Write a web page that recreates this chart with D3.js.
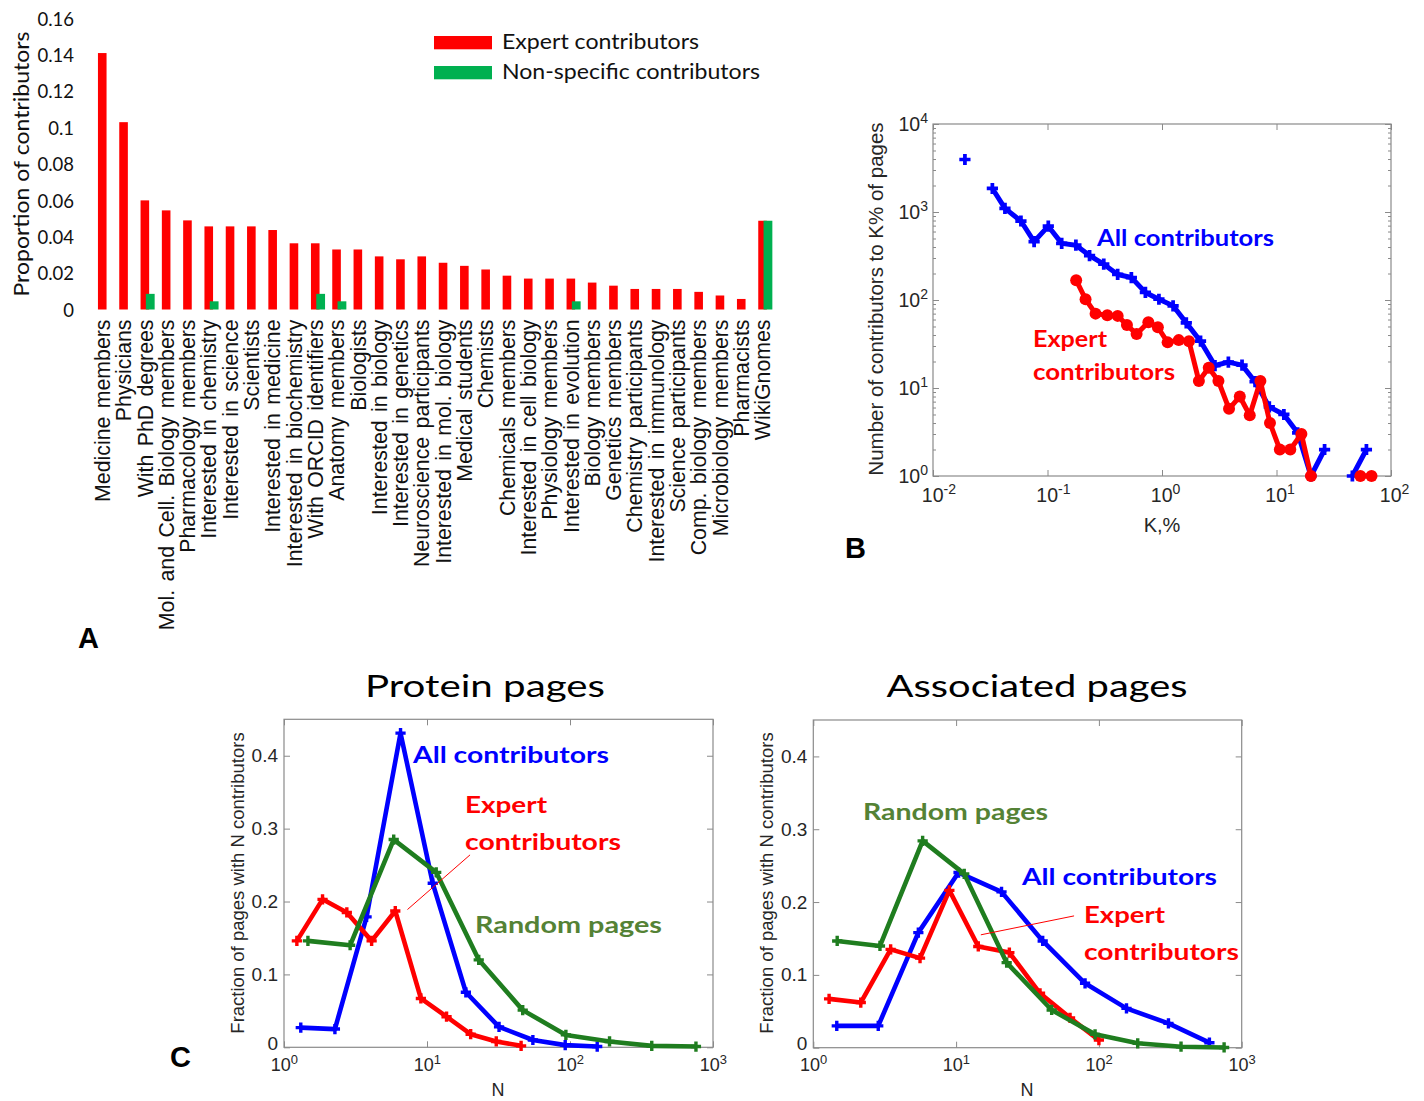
<!DOCTYPE html>
<html>
<head>
<meta charset="utf-8">
<script src="https://cdn.jsdelivr.net/npm/d3@7"></script>
<style>
    body { margin: 0; background: #fff; }
    svg { display: block; }
</style>
</head>
<body>
<div id="chart"></div>
<script>

// --- DATA ---

// Panel A : proportion of contributors per category
const categoriesA = ["Medicine members", "Physicians", "With PhD degrees", "Mol. and Cell. Biology members",
    "Pharmacology members", "Interested in chemistry", "Interested in science", "Scientists",
    "Interested in medicine", "Interested in biochemistry", "With ORCID identifiers", "Anatomy members",
    "Biologists", "Interested in biology", "Interested in genetics", "Neuroscience participants",
    "Interested in mol. biology", "Medical students", "Chemists", "Chemicals members",
    "Interested in cell biology", "Physiology members", "Interested in evolution", "Biology members",
    "Genetics members", "Chemistry participants", "Interested in immunology", "Science participants",
    "Comp. biology members", "Microbiology members", "Pharmacists", "WikiGnomes"];
const expertShare = [0.141, 0.103, 0.060, 0.0545, 0.049, 0.0457, 0.0457, 0.0457, 0.0437, 0.0364, 0.0364,
    0.033, 0.033, 0.0292, 0.0276, 0.0292, 0.0257, 0.024, 0.022, 0.0186, 0.017, 0.017, 0.017, 0.0148,
    0.0131, 0.0113, 0.0113, 0.0113, 0.0097, 0.0077, 0.0058, 0.0488];
const nonSpecificShare = [0, 0, 0.0086, 0, 0, 0.0045, 0, 0, 0, 0, 0.0086, 0.0045, 0, 0, 0, 0, 0, 0, 0, 0,
    0, 0, 0.0045, 0, 0, 0, 0, 0, 0, 0, 0, 0.0488];
const yTicksA = [0, 0.02, 0.04, 0.06, 0.08, 0.1, 0.12, 0.14, 0.16];
const legendA = ["Expert contributors", "Non-specific contributors"];

// Panel B : number of contributors to K% of pages (null = no contributor, gap in the line)
const kAll = [0.019, 0.025, 0.033, 0.0425, 0.0586, 0.0764, 0.1016, 0.133, 0.177, 0.233, 0.31, 0.41, 0.54,
    0.716, 0.94, 1.25, 1.63, 2.17, 2.9, 3.8, 5.0, 6.5, 8.65, 11.6, 15.3, 20, 26.3, 35, 46, 61];
const nAll = [3950, null, 1850, 1100, 790, 460, 690, 440, 420, 320, 255, 195, 180, 122, 102, 86, 55, 34,
    18, 19.7, 18.2, 11.8, 6.1, 5.0, 3.1, 1, 2, null, 1, 2];
const kExpert = [0.178, 0.215, 0.263, 0.333, 0.41, 0.494, 0.6, 0.76, 0.92, 1.12, 1.40, 1.72, 2.10, 2.56,
    3.11, 3.85, 4.78, 5.84, 7.23, 8.77, 10.7, 13.2, 16.5, 20, 30, 54, 67.6];
const nExpert = [168, 102, 70, 67, 66, 52, 41, 56, 49, 33, 35, 34, 12, 17, 12, 5.8, 8, 4.9, 12, 4, 2, 2,
    3, 1, null, 1, 1];
const kTicksB = [0.01, 0.1, 1, 10, 100];
const nTicksB = [1, 10, 100, 1000, 10000];

// Panel C : fraction of pages with N contributors
const proteinAllN = [1.31, 2.27, 3.78, 6.53, 10.97, 18.7, 31.9, 55, 92.6, 155];
const proteinAllF = [0.027, 0.025, 0.179, 0.431, 0.225, 0.0755, 0.028, 0.010, 0.003, 0.001];
const proteinExpertN = [1.23, 1.86, 2.75, 4.1, 6.0, 9.06, 13.7, 20.2, 30.5, 45.5];
const proteinExpertF = [0.146, 0.203, 0.185, 0.146, 0.187, 0.067, 0.042, 0.018, 0.008, 0.002];
const proteinRandomN = [1.47, 2.9, 5.85, 11.6, 23, 46.7, 93.6, 189, 373, 760];
const proteinRandomF = [0.146, 0.140, 0.285, 0.240, 0.120, 0.051, 0.017, 0.008, 0.002, 0.001];

const assocAllN = [1.46, 2.85, 5.44, 10.4, 20.8, 40.4, 80, 156, 307, 594];
const assocAllF = [0.030, 0.030, 0.158, 0.2405, 0.214, 0.1466, 0.0884, 0.054, 0.0334, 0.0069];
const assocExpertN = [1.29, 2.15, 3.48, 5.59, 8.97, 14.3, 23.6, 38.7, 62.8, 100];
const assocExpertF = [0.067, 0.062, 0.135, 0.123, 0.216, 0.139, 0.1306, 0.0747, 0.041, 0.0105];
const assocRandomN = [1.47, 2.93, 5.83, 11.4, 22.6, 46.7, 94, 187, 376, 753];
const assocRandomF = [0.1466, 0.1397, 0.284, 0.2387, 0.1168, 0.0518, 0.0183, 0.006, 0.0014, 0.0003];

const nTicksC = [1, 10, 100, 1000];
const fTicksC = [0, 0.1, 0.2, 0.3, 0.4];

// pointer lines from "Expert contributors" labels, in data units [N, fraction]
const proteinPointer = [[7.3, 0.189], [20, 0.264]];
const assocPointer = [[14.9, 0.155], [67, 0.181]];


// --- STYLE ---

const ARIAL = '"Liberation Sans", Arial, sans-serif';
const CALIBRI = 'Lato, "Open Sans", sans-serif';
const RED = "#ff0000", BLUE = "#0000ff", GREEN_LINE = "#1f7d1f", GREEN_TEXT = "#548235", GREEN_BAR = "#00b050";
const AXIS_GREY = "#8a8a8a", TEXT_GREY = "#262626";

const svg = d3.select("#chart").append("svg")
    .attr("width", 1424)
    .attr("height", 1101);


// --- HELPERS ---

// Remplace le texte des ticks par 10 + exposant
function powerLabels(axisG, centerBase) {
    axisG.selectAll(".tick text").each(function (d) {
        const t = d3.select(this);
        const e = Math.round(Math.log10(d));
        t.text(null);
        const base = t.append("tspan").text("10");
        if (centerBase) {
            t.attr("text-anchor", "start");
            base.attr("dx", "-0.6em");
        }
        t.append("tspan").attr("dy", "-0.55em").attr("font-size", "0.72em").text(e);
    });
}

function styleAxis(axisG, fontSize) {
    axisG.select(".domain").remove();
    axisG.selectAll(".tick line").attr("stroke", AXIS_GREY);
    axisG.selectAll(".tick text")
        .attr("fill", TEXT_GREY)
        .style("font-family", ARIAL)
        .style("font-size", fontSize + "px");
}

function label(g, txt, x, y, opts) {
    const t = g.append("text")
        .attr("x", x).attr("y", y)
        .attr("fill", opts.color || "#000")
        .style("font-family", opts.font || CALIBRI)
        .style("font-size", opts.size + "px")
        .style("font-weight", opts.bold ? "bold" : "normal")
        .attr("text-anchor", opts.anchor || "start")
        .text(txt);
    if (opts.width) t.attr("textLength", opts.width).attr("lengthAdjust", "spacingAndGlyphs");
    if (opts.rotate) t.attr("transform", `rotate(-90,${x},${y})`);
    return t;
}


// --- PANEL A ---

const gA = svg.append("g");
const xA = d3.scaleBand().domain(categoriesA).range([91.6, 773.2]).padding(0);
const yA = d3.scaleLinear().domain([0, 0.16]).range([309.5, 18.5]);
const rowsA = categoriesA.map((c, i) => ({cat: c, expert: expertShare[i], other: nonSpecificShare[i]}));
const midA = d => xA(d.cat) + xA.bandwidth() / 2;

gA.selectAll(".barExpert")
    .data(rowsA)
    .join("rect")
    .attr("class", "barExpert")
    .attr("x", d => midA(d) - 4.3)
    .attr("width", 8.6)
    .attr("y", d => yA(d.expert))
    .attr("height", d => yA(0) - yA(d.expert))
    .attr("fill", RED);

gA.selectAll(".barOther")
    .data(rowsA.filter(d => d.other > 0))
    .join("rect")
    .attr("class", "barOther")
    .attr("x", d => midA(d) + 1)
    .attr("width", 8.8)
    .attr("y", d => yA(d.other))
    .attr("height", d => yA(0) - yA(d.other))
    .attr("fill", GREEN_BAR);

const yAxisA = gA.append("g")
    .attr("transform", "translate(74,0)")
    .call(d3.axisLeft(yA).tickValues(yTicksA).tickFormat(d3.format("~g")).tickSize(0).tickPadding(0));
yAxisA.select(".domain").remove();
yAxisA.selectAll(".tick text")
    .attr("fill", "#111")
    .attr("dy", "0.36em")
    .style("font-family", CALIBRI)
    .style("font-size", "18.5px");

const xAxisA = gA.append("g")
    .attr("transform", `translate(0,${yA(0)})`)
    .call(d3.axisBottom(xA).tickSize(0));
xAxisA.select(".domain").remove();
xAxisA.selectAll(".tick text")
    .attr("transform", "rotate(-90)")
    .attr("text-anchor", "end")
    .attr("x", -10)
    .attr("y", 0)
    .attr("dy", "0.36em")
    .attr("fill", "#111")
    .style("word-spacing", "2.5px")
    .style("font-family", ARIAL)
    .style("font-size", "21.3px");

label(gA, "Proportion of contributors", 28.5, 164, {size: 22, anchor: "middle", rotate: true, color: "#111", width: 265});

// legend
[RED, GREEN_BAR].forEach((c, i) => {
    gA.append("rect").attr("x", 434).attr("y", 36 + i * 30).attr("width", 58).attr("height", 13.3).attr("fill", c);
});
label(gA, legendA[0], 502, 48.5, {size: 21, color: "#111", width: 197});
label(gA, legendA[1], 502, 78.5, {size: 21, color: "#111", width: 258});

label(svg, "A", 78, 648, {font: ARIAL, size: 29, bold: true});


// --- PANEL B ---

const gB = svg.append("g");
const xB = d3.scaleLog().domain([0.01, 100]).range([933, 1391]);
const yB = d3.scaleLog().domain([1, 10000]).range([476, 124]);
const minorB = d3.range(0, 4).flatMap(p => d3.range(2, 10).map(m => m * Math.pow(10, p)));

gB.append("rect")
    .attr("x", 933).attr("y", 124).attr("width", 458).attr("height", 352)
    .attr("fill", "none").attr("stroke", AXIS_GREY).attr("stroke-width", 1.2);

const bottomB = gB.append("g").attr("transform", "translate(0,476)")
    .call(d3.axisBottom(xB).tickValues(kTicksB).tickSize(-6).tickPadding(12));
styleAxis(bottomB, 19.5);
powerLabels(bottomB, true);

const leftB = gB.append("g").attr("transform", "translate(933,0)")
    .call(d3.axisLeft(yB).tickValues(nTicksB).tickSize(-6).tickPadding(5));
styleAxis(leftB, 19.5);
powerLabels(leftB, false);

const topB = gB.append("g").attr("transform", "translate(0,124)")
    .call(d3.axisTop(xB).tickValues(kTicksB).tickSize(-6).tickFormat(""));
styleAxis(topB, 19);
const rightB = gB.append("g").attr("transform", "translate(1391,0)")
    .call(d3.axisRight(yB).tickValues(nTicksB).tickSize(-6).tickFormat(""));
styleAxis(rightB, 19);
[[933, d3.axisLeft], [1391, d3.axisRight]].forEach(([xp, ax]) => {
    const m = gB.append("g").attr("transform", `translate(${xp},0)`)
        .call(ax(yB).tickValues(minorB).tickSize(-3).tickFormat(""));
    styleAxis(m, 19);
});

const allB = kAll.map((k, i) => ({k: k, n: nAll[i]}));
const expertB = kExpert.map((k, i) => ({k: k, n: nExpert[i]}));
const lineB = d3.line().defined(d => d.n != null).x(d => xB(d.k)).y(d => yB(d.n));

gB.append("path").datum(allB).attr("d", lineB)
    .attr("fill", "none").attr("stroke", BLUE).attr("stroke-width", 5).attr("stroke-linejoin", "round");
gB.selectAll(".markAll")
    .data(allB.filter(d => d.n != null))
    .join("path")
    .attr("class", "markAll")
    .attr("transform", d => `translate(${xB(d.k)},${yB(d.n)})`)
    .attr("d", d3.symbol(d3.symbolCross, 70))
    .attr("fill", BLUE);

gB.append("path").datum(expertB).attr("d", lineB)
    .attr("fill", "none").attr("stroke", RED).attr("stroke-width", 5).attr("stroke-linejoin", "round");
gB.selectAll(".markExpert")
    .data(expertB.filter(d => d.n != null))
    .join("circle")
    .attr("class", "markExpert")
    .attr("cx", d => xB(d.k))
    .attr("cy", d => yB(d.n))
    .attr("r", 6)
    .attr("fill", RED);

label(gB, "Number of contributors to K% of pages", 883, 299, {font: ARIAL, size: 20.5, anchor: "middle", rotate: true, color: TEXT_GREY});
label(gB, "K,%", 1162, 532, {font: ARIAL, size: 20, anchor: "middle", color: TEXT_GREY});
label(gB, "All contributors", 1097, 246, {size: 23, bold: true, color: BLUE, width: 177});
label(gB, "Expert", 1033, 347, {size: 23, bold: true, color: RED, width: 74});
label(gB, "contributors", 1033, 380, {size: 23, bold: true, color: RED, width: 142});

label(svg, "B", 845, 558, {font: ARIAL, size: 29, bold: true});


// --- PANEL C ---

function drawProfile(cfg) {
    const g = svg.append("g");
    const x = d3.scaleLog().domain([1, 1000]).range(cfg.xr);
    const y = d3.scaleLinear().domain([0, 0.45]).range(cfg.yr);

    g.append("rect")
        .attr("x", cfg.xr[0]).attr("y", cfg.yr[1])
        .attr("width", cfg.xr[1] - cfg.xr[0]).attr("height", cfg.yr[0] - cfg.yr[1])
        .attr("fill", "none").attr("stroke", AXIS_GREY).attr("stroke-width", 1.2);

    const bottom = g.append("g").attr("transform", `translate(0,${cfg.yr[0]})`)
        .call(d3.axisBottom(x).tickValues(nTicksC).tickSize(-6).tickPadding(11));
    styleAxis(bottom, 18);
    powerLabels(bottom, true);
    bottom.selectAll(".tick text").attr("x", -3);

    const left = g.append("g").attr("transform", `translate(${cfg.xr[0]},0)`)
        .call(d3.axisLeft(y).tickValues(fTicksC).tickFormat(d3.format("~g")).tickSize(-6).tickPadding(6));
    styleAxis(left, 19);
    left.selectAll(".tick text").filter(d => d === 0).attr("dy", "0.1em");

    const top = g.append("g").attr("transform", `translate(0,${cfg.yr[1]})`)
        .call(d3.axisTop(x).tickValues(nTicksC).tickSize(-6).tickFormat(""));
    styleAxis(top, 18);
    const right = g.append("g").attr("transform", `translate(${cfg.xr[1]},0)`)
        .call(d3.axisRight(y).tickValues(fTicksC).tickSize(-6).tickFormat(""));
    styleAxis(right, 18);

    const line = d3.line().x(d => x(d[0])).y(d => y(d[1]));
    cfg.series.forEach(s => {
        const pts = s.n.map((v, i) => [v, s.f[i]]);
        g.append("path").datum(pts).attr("d", line)
            .attr("fill", "none").attr("stroke", s.color).attr("stroke-width", 4.6).attr("stroke-linejoin", "round");
        g.selectAll(null)
            .data(pts)
            .join("path")
            .attr("transform", d => `translate(${x(d[0])},${y(d[1])})`)
            .attr("d", d3.symbol(d3.symbolCross, 58))
            .attr("fill", s.color);
    });

    g.append("line")
        .attr("x1", x(cfg.pointer[0][0])).attr("y1", y(cfg.pointer[0][1]))
        .attr("x2", x(cfg.pointer[1][0])).attr("y2", y(cfg.pointer[1][1]))
        .attr("stroke", RED).attr("stroke-width", 1);

    const xm = (cfg.xr[0] + cfg.xr[1]) / 2;
    label(g, cfg.title, cfg.titleX, 697, {size: 31, anchor: "middle", color: "#000", width: cfg.titleW});
    label(g, "Fraction of pages with N contributors", cfg.xr[0] - 40, 883, {font: ARIAL, size: 18.5, anchor: "middle", rotate: true, color: TEXT_GREY});
    label(g, "N", xm - 0.5, 1096, {font: ARIAL, size: 18, anchor: "middle", color: TEXT_GREY});
    cfg.notes.forEach(nt => label(g, nt[0], nt[1], nt[2], {size: 23, bold: true, color: nt[3], width: nt[4]}));
}

drawProfile({
    xr: [284, 713], yr: [1047.3, 719.3],
    title: "Protein pages", titleX: 485, titleW: 240,
    pointer: proteinPointer,
    series: [
        {n: proteinAllN, f: proteinAllF, color: BLUE},
        {n: proteinExpertN, f: proteinExpertF, color: RED},
        {n: proteinRandomN, f: proteinRandomF, color: GREEN_LINE}
    ],
    notes: [
        ["All contributors", 413, 763, BLUE, 196],
        ["Expert", 465, 813, RED, 82],
        ["contributors", 465, 850, RED, 156],
        ["Random pages", 475, 933, GREEN_TEXT, 187]
    ]
});

drawProfile({
    xr: [813.3, 1241.7], yr: [1047.7, 720],
    title: "Associated pages", titleX: 1037, titleW: 301,
    pointer: assocPointer,
    series: [
        {n: assocAllN, f: assocAllF, color: BLUE},
        {n: assocExpertN, f: assocExpertF, color: RED},
        {n: assocRandomN, f: assocRandomF, color: GREEN_LINE}
    ],
    notes: [
        ["Random pages", 863, 820, GREEN_TEXT, 185],
        ["All contributors", 1022, 885, BLUE, 195],
        ["Expert", 1084, 923, RED, 81],
        ["contributors", 1084, 960, RED, 155]
    ]
});

label(svg, "C", 170, 1067, {font: ARIAL, size: 29, bold: true});

</script>
</body>
</html>
